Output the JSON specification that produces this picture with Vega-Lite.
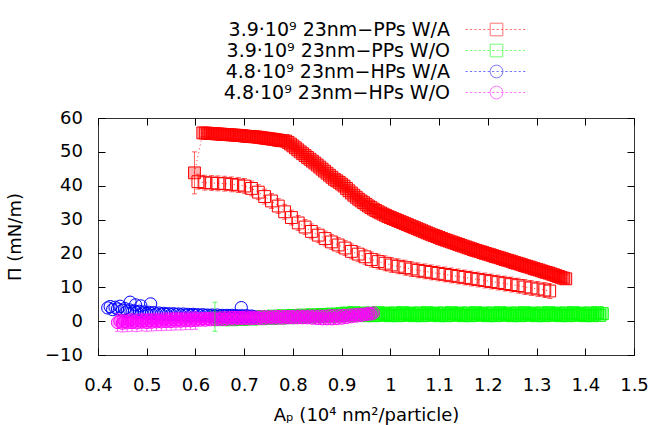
{
"$schema": "https://vega.github.io/schema/vega-lite/v6.json",
"width": 536, "height": 237,
"autosize": "none",
"padding": {"left": 98, "top": 118, "right": 20, "bottom": 70},
"config": {
  "font": "DejaVu Sans",
  "view": {"stroke": "#333", "strokeWidth": 1},
  "axis": {"domain": false, "ticks": true, "tickSize": 7, "tickColor": "#000", "tickWidth": 1, "tickOpacity": 0, "grid": true, "gridColor": "#000", "gridOpacity": 1, "gridWidth": 1, "labelFlush": false, "labelOverlap": false, "labelFont": "DejaVu Sans", "labelFontSize": 18, "labelColor": "#000", "titleFont": "DejaVu Sans", "titleFontSize": 18, "titleColor": "#000", "titleFontWeight": "normal"}
},
"data": {"values": [
{"s":"PPs W/A","r":1,"x":0.598,"y":43.8,"err":6.2},
{"s":"PPs W/A","r":1,"x":0.615,"y":55.6,"err":1.2},{"s":"PPs W/A","r":1,"x":0.62,"y":55.55,"err":1.2},{"s":"PPs W/A","r":1,"x":0.625,"y":55.5,"err":1.2},{"s":"PPs W/A","r":1,"x":0.63,"y":55.45,"err":1.2},{"s":"PPs W/A","r":1,"x":0.635,"y":55.4,"err":1.2},{"s":"PPs W/A","r":1,"x":0.64,"y":55.35,"err":1.2},{"s":"PPs W/A","r":1,"x":0.645,"y":55.3,"err":1.2},{"s":"PPs W/A","r":1,"x":0.65,"y":55.25,"err":1.2},{"s":"PPs W/A","r":1,"x":0.655,"y":55.2,"err":1.2},{"s":"PPs W/A","r":1,"x":0.66,"y":55.15,"err":1.2},{"s":"PPs W/A","r":1,"x":0.665,"y":55.1,"err":1.2},{"s":"PPs W/A","r":1,"x":0.67,"y":55.05,"err":1.2},{"s":"PPs W/A","r":1,"x":0.675,"y":55.0,"err":1.2},{"s":"PPs W/A","r":1,"x":0.68,"y":54.95,"err":1.2},{"s":"PPs W/A","r":1,"x":0.685,"y":54.9,"err":1.2},{"s":"PPs W/A","r":1,"x":0.69,"y":54.85,"err":1.2},{"s":"PPs W/A","r":1,"x":0.695,"y":54.8,"err":1.2},{"s":"PPs W/A","r":1,"x":0.7,"y":54.7,"err":1.2},{"s":"PPs W/A","r":1,"x":0.705,"y":54.6,"err":1.2},{"s":"PPs W/A","r":1,"x":0.71,"y":54.55,"err":1.2},{"s":"PPs W/A","r":1,"x":0.715,"y":54.5,"err":1.2},{"s":"PPs W/A","r":1,"x":0.72,"y":54.45,"err":1.2},{"s":"PPs W/A","r":1,"x":0.725,"y":54.4,"err":1.2},{"s":"PPs W/A","r":1,"x":0.73,"y":54.3,"err":1.2},{"s":"PPs W/A","r":1,"x":0.735,"y":54.2,"err":1.2},{"s":"PPs W/A","r":1,"x":0.74,"y":54.1,"err":1.2},{"s":"PPs W/A","r":1,"x":0.745,"y":54.0,"err":1.2},{"s":"PPs W/A","r":1,"x":0.75,"y":53.9,"err":1.2},{"s":"PPs W/A","r":1,"x":0.755,"y":53.8,"err":1.2},{"s":"PPs W/A","r":1,"x":0.76,"y":53.7,"err":1.2},{"s":"PPs W/A","r":1,"x":0.765,"y":53.6,"err":1.2},{"s":"PPs W/A","r":1,"x":0.77,"y":53.45,"err":1.2},{"s":"PPs W/A","r":1,"x":0.775,"y":53.3,"err":1.2},{"s":"PPs W/A","r":1,"x":0.78,"y":53.3,"err":1.2},{"s":"PPs W/A","r":1,"x":0.785,"y":53.2,"err":1.2},{"s":"PPs W/A","r":1,"x":0.79,"y":52.8,"err":1.2},{"s":"PPs W/A","r":1,"x":0.795,"y":52.3,"err":1.2},{"s":"PPs W/A","r":1,"x":0.8,"y":51.75,"err":1.2},{"s":"PPs W/A","r":1,"x":0.805,"y":51.2,"err":1.2},{"s":"PPs W/A","r":1,"x":0.81,"y":50.6,"err":1.2},{"s":"PPs W/A","r":1,"x":0.815,"y":50.0,"err":1.2},{"s":"PPs W/A","r":1,"x":0.82,"y":49.45,"err":1.2},{"s":"PPs W/A","r":1,"x":0.825,"y":48.9,"err":1.2},{"s":"PPs W/A","r":1,"x":0.83,"y":48.35,"err":1.2},{"s":"PPs W/A","r":1,"x":0.835,"y":47.8,"err":1.2},{"s":"PPs W/A","r":1,"x":0.84,"y":47.25,"err":1.2},{"s":"PPs W/A","r":1,"x":0.845,"y":46.7,"err":1.2},{"s":"PPs W/A","r":1,"x":0.85,"y":46.1,"err":1.2},{"s":"PPs W/A","r":1,"x":0.855,"y":45.5,"err":1.2},{"s":"PPs W/A","r":1,"x":0.86,"y":44.9,"err":1.2},{"s":"PPs W/A","r":1,"x":0.865,"y":44.3,"err":1.2},{"s":"PPs W/A","r":1,"x":0.87,"y":43.7,"err":1.2},{"s":"PPs W/A","r":1,"x":0.875,"y":43.1,"err":1.2},{"s":"PPs W/A","r":1,"x":0.88,"y":42.5,"err":1.2},{"s":"PPs W/A","r":1,"x":0.885,"y":41.9,"err":1.2},{"s":"PPs W/A","r":1,"x":0.89,"y":41.45,"err":1.2},{"s":"PPs W/A","r":1,"x":0.895,"y":41.0,"err":1.2},{"s":"PPs W/A","r":1,"x":0.9,"y":40.45,"err":1.2},{"s":"PPs W/A","r":1,"x":0.905,"y":39.9,"err":1.2},{"s":"PPs W/A","r":1,"x":0.91,"y":39.2,"err":1.2},{"s":"PPs W/A","r":1,"x":0.915,"y":38.5,"err":1.2},{"s":"PPs W/A","r":1,"x":0.92,"y":37.85,"err":1.2},{"s":"PPs W/A","r":1,"x":0.925,"y":37.2,"err":1.2},{"s":"PPs W/A","r":1,"x":0.93,"y":36.6,"err":1.2},{"s":"PPs W/A","r":1,"x":0.935,"y":36.0,"err":1.2},{"s":"PPs W/A","r":1,"x":0.94,"y":35.5,"err":1.2},{"s":"PPs W/A","r":1,"x":0.945,"y":35.0,"err":1.2},{"s":"PPs W/A","r":1,"x":0.95,"y":34.5,"err":1.2},{"s":"PPs W/A","r":1,"x":0.955,"y":34.0,"err":1.2},{"s":"PPs W/A","r":1,"x":0.96,"y":33.55,"err":1.2},{"s":"PPs W/A","r":1,"x":0.965,"y":33.1,"err":1.2},{"s":"PPs W/A","r":1,"x":0.97,"y":32.7,"err":1.2},{"s":"PPs W/A","r":1,"x":0.975,"y":32.3,"err":1.2},{"s":"PPs W/A","r":1,"x":0.98,"y":31.95,"err":1.2},{"s":"PPs W/A","r":1,"x":0.985,"y":31.6,"err":1.2},{"s":"PPs W/A","r":1,"x":0.99,"y":31.25,"err":1.2},{"s":"PPs W/A","r":1,"x":0.995,"y":30.9,"err":1.2},{"s":"PPs W/A","r":1,"x":1.0,"y":30.6,"err":1.2},{"s":"PPs W/A","r":1,"x":1.005,"y":30.3,"err":1.2},{"s":"PPs W/A","r":1,"x":1.01,"y":30.0,"err":1.2},{"s":"PPs W/A","r":1,"x":1.015,"y":29.7,"err":1.2},{"s":"PPs W/A","r":1,"x":1.02,"y":29.4,"err":1.2},{"s":"PPs W/A","r":1,"x":1.025,"y":29.1,"err":1.2},{"s":"PPs W/A","r":1,"x":1.03,"y":28.8,"err":1.2},{"s":"PPs W/A","r":1,"x":1.035,"y":28.5,"err":1.2},{"s":"PPs W/A","r":1,"x":1.04,"y":28.2,"err":1.2},{"s":"PPs W/A","r":1,"x":1.045,"y":27.9,"err":1.2},{"s":"PPs W/A","r":1,"x":1.05,"y":27.6,"err":1.2},{"s":"PPs W/A","r":1,"x":1.055,"y":27.3,"err":1.2},{"s":"PPs W/A","r":1,"x":1.06,"y":27.0,"err":1.2},{"s":"PPs W/A","r":1,"x":1.065,"y":26.7,"err":1.2},{"s":"PPs W/A","r":1,"x":1.07,"y":26.4,"err":1.2},{"s":"PPs W/A","r":1,"x":1.075,"y":26.1,"err":1.2},{"s":"PPs W/A","r":1,"x":1.08,"y":25.8,"err":1.2},{"s":"PPs W/A","r":1,"x":1.085,"y":25.5,"err":1.2},{"s":"PPs W/A","r":1,"x":1.09,"y":25.25,"err":1.2},{"s":"PPs W/A","r":1,"x":1.095,"y":25.0,"err":1.2},{"s":"PPs W/A","r":1,"x":1.1,"y":24.7,"err":1.2},{"s":"PPs W/A","r":1,"x":1.105,"y":24.4,"err":1.2},{"s":"PPs W/A","r":1,"x":1.11,"y":24.15,"err":1.2},{"s":"PPs W/A","r":1,"x":1.115,"y":23.9,"err":1.2},{"s":"PPs W/A","r":1,"x":1.12,"y":23.65,"err":1.2},{"s":"PPs W/A","r":1,"x":1.125,"y":23.4,"err":1.2},{"s":"PPs W/A","r":1,"x":1.13,"y":23.15,"err":1.2},{"s":"PPs W/A","r":1,"x":1.135,"y":22.9,"err":1.2},{"s":"PPs W/A","r":1,"x":1.14,"y":22.65,"err":1.2},{"s":"PPs W/A","r":1,"x":1.145,"y":22.4,"err":1.2},{"s":"PPs W/A","r":1,"x":1.15,"y":22.15,"err":1.2},{"s":"PPs W/A","r":1,"x":1.155,"y":21.9,"err":1.2},{"s":"PPs W/A","r":1,"x":1.16,"y":21.65,"err":1.2},{"s":"PPs W/A","r":1,"x":1.165,"y":21.4,"err":1.2},{"s":"PPs W/A","r":1,"x":1.17,"y":21.15,"err":1.2},{"s":"PPs W/A","r":1,"x":1.175,"y":20.9,"err":1.2},{"s":"PPs W/A","r":1,"x":1.18,"y":20.7,"err":1.2},{"s":"PPs W/A","r":1,"x":1.185,"y":20.5,"err":1.2},{"s":"PPs W/A","r":1,"x":1.19,"y":20.25,"err":1.2},{"s":"PPs W/A","r":1,"x":1.195,"y":20.0,"err":1.2},{"s":"PPs W/A","r":1,"x":1.2,"y":19.8,"err":1.2},{"s":"PPs W/A","r":1,"x":1.205,"y":19.6,"err":1.2},{"s":"PPs W/A","r":1,"x":1.21,"y":19.35,"err":1.2},{"s":"PPs W/A","r":1,"x":1.215,"y":19.1,"err":1.2},{"s":"PPs W/A","r":1,"x":1.22,"y":18.9,"err":1.2},{"s":"PPs W/A","r":1,"x":1.225,"y":18.7,"err":1.2},{"s":"PPs W/A","r":1,"x":1.23,"y":18.45,"err":1.2},{"s":"PPs W/A","r":1,"x":1.235,"y":18.2,"err":1.2},{"s":"PPs W/A","r":1,"x":1.24,"y":18.0,"err":1.2},{"s":"PPs W/A","r":1,"x":1.245,"y":17.8,"err":1.2},{"s":"PPs W/A","r":1,"x":1.25,"y":17.55,"err":1.2},{"s":"PPs W/A","r":1,"x":1.255,"y":17.3,"err":1.2},{"s":"PPs W/A","r":1,"x":1.26,"y":17.1,"err":1.2},{"s":"PPs W/A","r":1,"x":1.265,"y":16.9,"err":1.2},{"s":"PPs W/A","r":1,"x":1.27,"y":16.65,"err":1.2},{"s":"PPs W/A","r":1,"x":1.275,"y":16.4,"err":1.2},{"s":"PPs W/A","r":1,"x":1.28,"y":16.2,"err":1.2},{"s":"PPs W/A","r":1,"x":1.285,"y":16.0,"err":1.2},{"s":"PPs W/A","r":1,"x":1.29,"y":15.75,"err":1.2},{"s":"PPs W/A","r":1,"x":1.295,"y":15.5,"err":1.2},{"s":"PPs W/A","r":1,"x":1.3,"y":15.3,"err":1.2},{"s":"PPs W/A","r":1,"x":1.305,"y":15.1,"err":1.2},{"s":"PPs W/A","r":1,"x":1.31,"y":14.85,"err":1.2},{"s":"PPs W/A","r":1,"x":1.315,"y":14.6,"err":1.2},{"s":"PPs W/A","r":1,"x":1.32,"y":14.4,"err":1.2},{"s":"PPs W/A","r":1,"x":1.325,"y":14.2,"err":1.2},{"s":"PPs W/A","r":1,"x":1.33,"y":13.95,"err":1.2},{"s":"PPs W/A","r":1,"x":1.335,"y":13.7,"err":1.2},{"s":"PPs W/A","r":1,"x":1.34,"y":13.45,"err":1.2},{"s":"PPs W/A","r":1,"x":1.345,"y":13.2,"err":1.2},{"s":"PPs W/A","r":1,"x":1.35,"y":12.95,"err":1.2},{"s":"PPs W/A","r":1,"x":1.355,"y":12.7,"err":1.2},{"s":"PPs W/A","r":1,"x":1.36,"y":12.5,"err":1.2},
{"s":"PPs W/A","r":2,"x":0.605,"y":41.2,"err":2.2},{"s":"PPs W/A","r":2,"x":0.619,"y":40.9,"err":2.2},{"s":"PPs W/A","r":2,"x":0.633,"y":40.8,"err":2.2},{"s":"PPs W/A","r":2,"x":0.646,"y":40.7,"err":2.2},{"s":"PPs W/A","r":2,"x":0.660,"y":40.6,"err":2.2},{"s":"PPs W/A","r":2,"x":0.674,"y":40.4,"err":2.2},{"s":"PPs W/A","r":2,"x":0.688,"y":40.2,"err":2.2},{"s":"PPs W/A","r":2,"x":0.701,"y":39.9,"err":2.2},{"s":"PPs W/A","r":2,"x":0.715,"y":39.2,"err":2.2},{"s":"PPs W/A","r":2,"x":0.729,"y":38.1,"err":2.2},{"s":"PPs W/A","r":2,"x":0.742,"y":36.8,"err":2.2},{"s":"PPs W/A","r":2,"x":0.756,"y":35.5,"err":2.2},{"s":"PPs W/A","r":2,"x":0.770,"y":34.0,"err":2.2},{"s":"PPs W/A","r":2,"x":0.783,"y":32.3,"err":2.2},{"s":"PPs W/A","r":2,"x":0.797,"y":30.6,"err":2.2},{"s":"PPs W/A","r":2,"x":0.811,"y":29.0,"err":2.2},{"s":"PPs W/A","r":2,"x":0.825,"y":27.8,"err":2.2},{"s":"PPs W/A","r":2,"x":0.838,"y":26.5,"err":2.2},{"s":"PPs W/A","r":2,"x":0.852,"y":25.4,"err":2.2},{"s":"PPs W/A","r":2,"x":0.866,"y":24.4,"err":2.2},{"s":"PPs W/A","r":2,"x":0.879,"y":23.4,"err":2.2},{"s":"PPs W/A","r":2,"x":0.893,"y":22.5,"err":2.2},{"s":"PPs W/A","r":2,"x":0.907,"y":21.6,"err":2.2},{"s":"PPs W/A","r":2,"x":0.920,"y":20.6,"err":2.2},{"s":"PPs W/A","r":2,"x":0.934,"y":19.8,"err":2.2},{"s":"PPs W/A","r":2,"x":0.948,"y":19.0,"err":2.2},{"s":"PPs W/A","r":2,"x":0.961,"y":18.2,"err":2.2},{"s":"PPs W/A","r":2,"x":0.975,"y":17.6,"err":2.2},{"s":"PPs W/A","r":2,"x":0.989,"y":17.1,"err":2.2},{"s":"PPs W/A","r":2,"x":1.002,"y":16.6,"err":2.2},{"s":"PPs W/A","r":2,"x":1.016,"y":16.2,"err":2.2},{"s":"PPs W/A","r":2,"x":1.030,"y":15.8,"err":2.2},{"s":"PPs W/A","r":2,"x":1.043,"y":15.4,"err":2.2},{"s":"PPs W/A","r":2,"x":1.057,"y":15.0,"err":2.2},{"s":"PPs W/A","r":2,"x":1.071,"y":14.7,"err":2.2},{"s":"PPs W/A","r":2,"x":1.084,"y":14.4,"err":2.2},{"s":"PPs W/A","r":2,"x":1.098,"y":14.1,"err":2.2},{"s":"PPs W/A","r":2,"x":1.112,"y":13.8,"err":2.2},{"s":"PPs W/A","r":2,"x":1.125,"y":13.5,"err":2.2},{"s":"PPs W/A","r":2,"x":1.139,"y":13.2,"err":2.2},{"s":"PPs W/A","r":2,"x":1.153,"y":12.9,"err":2.2},{"s":"PPs W/A","r":2,"x":1.166,"y":12.6,"err":2.2},{"s":"PPs W/A","r":2,"x":1.180,"y":12.3,"err":2.2},{"s":"PPs W/A","r":2,"x":1.194,"y":12.0,"err":2.2},{"s":"PPs W/A","r":2,"x":1.207,"y":11.7,"err":2.2},{"s":"PPs W/A","r":2,"x":1.221,"y":11.4,"err":2.2},{"s":"PPs W/A","r":2,"x":1.235,"y":11.1,"err":2.2},{"s":"PPs W/A","r":2,"x":1.248,"y":10.8,"err":2.2},{"s":"PPs W/A","r":2,"x":1.262,"y":10.5,"err":2.2},{"s":"PPs W/A","r":2,"x":1.276,"y":10.1,"err":2.2},{"s":"PPs W/A","r":2,"x":1.289,"y":9.8,"err":2.2},{"s":"PPs W/A","r":2,"x":1.303,"y":9.5,"err":2.2},{"s":"PPs W/A","r":2,"x":1.317,"y":9.2,"err":2.2},{"s":"PPs W/A","r":2,"x":1.327,"y":8.9,"err":2.2},
{"s":"PPs W/O","x":0.64,"y":1.3,"err":4.3},{"s":"PPs W/O","x":0.645,"y":0.5},{"s":"PPs W/O","x":0.65,"y":0.9},{"s":"PPs W/O","x":0.655,"y":0.4},{"s":"PPs W/O","x":0.66,"y":1.0},{"s":"PPs W/O","x":0.665,"y":0.6},{"s":"PPs W/O","x":0.67,"y":0.8},{"s":"PPs W/O","x":0.675,"y":0.4},{"s":"PPs W/O","x":0.68,"y":1.1},{"s":"PPs W/O","x":0.685,"y":0.7},{"s":"PPs W/O","x":0.69,"y":0.9},{"s":"PPs W/O","x":0.695,"y":0.5},{"s":"PPs W/O","x":0.7,"y":1.2},{"s":"PPs W/O","x":0.705,"y":0.8},{"s":"PPs W/O","x":0.71,"y":1.0},{"s":"PPs W/O","x":0.715,"y":0.6},{"s":"PPs W/O","x":0.72,"y":1.3},{"s":"PPs W/O","x":0.725,"y":0.9},{"s":"PPs W/O","x":0.73,"y":1.1},{"s":"PPs W/O","x":0.735,"y":0.7},{"s":"PPs W/O","x":0.74,"y":1.4},{"s":"PPs W/O","x":0.745,"y":1.0},{"s":"PPs W/O","x":0.75,"y":1.2},{"s":"PPs W/O","x":0.755,"y":0.8},{"s":"PPs W/O","x":0.76,"y":1.5},{"s":"PPs W/O","x":0.765,"y":1.1},{"s":"PPs W/O","x":0.77,"y":1.3},{"s":"PPs W/O","x":0.775,"y":0.9},{"s":"PPs W/O","x":0.78,"y":1.6},{"s":"PPs W/O","x":0.785,"y":1.2},{"s":"PPs W/O","x":0.79,"y":1.4},{"s":"PPs W/O","x":0.795,"y":1.0},{"s":"PPs W/O","x":0.8,"y":1.7},{"s":"PPs W/O","x":0.805,"y":1.3},{"s":"PPs W/O","x":0.81,"y":1.5},{"s":"PPs W/O","x":0.815,"y":1.1},{"s":"PPs W/O","x":0.82,"y":1.8},{"s":"PPs W/O","x":0.825,"y":1.4},{"s":"PPs W/O","x":0.83,"y":1.6},{"s":"PPs W/O","x":0.835,"y":1.2},{"s":"PPs W/O","x":0.84,"y":1.9},{"s":"PPs W/O","x":0.845,"y":1.5},{"s":"PPs W/O","x":0.85,"y":1.7},{"s":"PPs W/O","x":0.855,"y":1.3},{"s":"PPs W/O","x":0.86,"y":2.0},{"s":"PPs W/O","x":0.865,"y":1.6},{"s":"PPs W/O","x":0.87,"y":1.8},{"s":"PPs W/O","x":0.875,"y":1.4},{"s":"PPs W/O","x":0.88,"y":2.1},{"s":"PPs W/O","x":0.885,"y":1.7},{"s":"PPs W/O","x":0.89,"y":1.9},{"s":"PPs W/O","x":0.895,"y":1.5},{"s":"PPs W/O","x":0.9,"y":2.2},
{"s":"PPs W/O","x":0.905,"y":1.8},{"s":"PPs W/O","x":0.91,"y":2.4},{"s":"PPs W/O","x":0.915,"y":1.6},{"s":"PPs W/O","x":0.92,"y":2.1},{"s":"PPs W/O","x":0.925,"y":2.5},{"s":"PPs W/O","x":0.93,"y":1.7},{"s":"PPs W/O","x":0.935,"y":2.2},{"s":"PPs W/O","x":0.94,"y":1.9},{"s":"PPs W/O","x":0.945,"y":2.4},{"s":"PPs W/O","x":0.95,"y":1.6},
{"s":"PPs W/O","x":0.955,"y":1.8},{"s":"PPs W/O","x":0.96,"y":2.4},{"s":"PPs W/O","x":0.965,"y":1.6},{"s":"PPs W/O","x":0.97,"y":2.1},{"s":"PPs W/O","x":0.975,"y":2.5},{"s":"PPs W/O","x":0.98,"y":1.7},{"s":"PPs W/O","x":0.985,"y":2.2},{"s":"PPs W/O","x":0.99,"y":1.9},{"s":"PPs W/O","x":0.995,"y":2.4},{"s":"PPs W/O","x":1.0,"y":1.6},
{"s":"PPs W/O","x":1.005,"y":1.8},{"s":"PPs W/O","x":1.01,"y":2.4},{"s":"PPs W/O","x":1.015,"y":1.6},{"s":"PPs W/O","x":1.02,"y":2.1},{"s":"PPs W/O","x":1.025,"y":2.5},{"s":"PPs W/O","x":1.03,"y":1.7},{"s":"PPs W/O","x":1.035,"y":2.2},{"s":"PPs W/O","x":1.04,"y":1.9},{"s":"PPs W/O","x":1.045,"y":2.4},{"s":"PPs W/O","x":1.05,"y":1.6},
{"s":"PPs W/O","x":1.055,"y":1.8},{"s":"PPs W/O","x":1.06,"y":2.4},{"s":"PPs W/O","x":1.065,"y":1.6},{"s":"PPs W/O","x":1.07,"y":2.1},{"s":"PPs W/O","x":1.075,"y":2.5},{"s":"PPs W/O","x":1.08,"y":1.7},{"s":"PPs W/O","x":1.085,"y":2.2},{"s":"PPs W/O","x":1.09,"y":1.9},{"s":"PPs W/O","x":1.095,"y":2.4},{"s":"PPs W/O","x":1.1,"y":1.6},
{"s":"PPs W/O","x":1.105,"y":1.8},{"s":"PPs W/O","x":1.11,"y":2.4},{"s":"PPs W/O","x":1.115,"y":1.6},{"s":"PPs W/O","x":1.12,"y":2.1},{"s":"PPs W/O","x":1.125,"y":2.5},{"s":"PPs W/O","x":1.13,"y":1.7},{"s":"PPs W/O","x":1.135,"y":2.2},{"s":"PPs W/O","x":1.14,"y":1.9},{"s":"PPs W/O","x":1.145,"y":2.4},{"s":"PPs W/O","x":1.15,"y":1.6},
{"s":"PPs W/O","x":1.155,"y":1.8},{"s":"PPs W/O","x":1.16,"y":2.4},{"s":"PPs W/O","x":1.165,"y":1.6},{"s":"PPs W/O","x":1.17,"y":2.1},{"s":"PPs W/O","x":1.175,"y":2.5},{"s":"PPs W/O","x":1.18,"y":1.7},{"s":"PPs W/O","x":1.185,"y":2.2},{"s":"PPs W/O","x":1.19,"y":1.9},{"s":"PPs W/O","x":1.195,"y":2.4},{"s":"PPs W/O","x":1.2,"y":1.6},
{"s":"PPs W/O","x":1.205,"y":1.8},{"s":"PPs W/O","x":1.21,"y":2.4},{"s":"PPs W/O","x":1.215,"y":1.6},{"s":"PPs W/O","x":1.22,"y":2.1},{"s":"PPs W/O","x":1.225,"y":2.5},{"s":"PPs W/O","x":1.23,"y":1.7},{"s":"PPs W/O","x":1.235,"y":2.2},{"s":"PPs W/O","x":1.24,"y":1.9},{"s":"PPs W/O","x":1.245,"y":2.4},{"s":"PPs W/O","x":1.25,"y":1.6},
{"s":"PPs W/O","x":1.255,"y":1.8},{"s":"PPs W/O","x":1.26,"y":2.4},{"s":"PPs W/O","x":1.265,"y":1.6},{"s":"PPs W/O","x":1.27,"y":2.1},{"s":"PPs W/O","x":1.275,"y":2.5},{"s":"PPs W/O","x":1.28,"y":1.7},{"s":"PPs W/O","x":1.285,"y":2.2},{"s":"PPs W/O","x":1.29,"y":1.9},{"s":"PPs W/O","x":1.295,"y":2.4},{"s":"PPs W/O","x":1.3,"y":1.6},
{"s":"PPs W/O","x":1.305,"y":1.8},{"s":"PPs W/O","x":1.31,"y":2.4},{"s":"PPs W/O","x":1.315,"y":1.6},{"s":"PPs W/O","x":1.32,"y":2.1},{"s":"PPs W/O","x":1.325,"y":2.5},{"s":"PPs W/O","x":1.33,"y":1.7},{"s":"PPs W/O","x":1.335,"y":2.2},{"s":"PPs W/O","x":1.34,"y":1.9},{"s":"PPs W/O","x":1.345,"y":2.4},{"s":"PPs W/O","x":1.35,"y":1.6},
{"s":"PPs W/O","x":1.355,"y":1.8},{"s":"PPs W/O","x":1.36,"y":2.4},{"s":"PPs W/O","x":1.365,"y":1.6},{"s":"PPs W/O","x":1.37,"y":2.1},{"s":"PPs W/O","x":1.375,"y":2.5},{"s":"PPs W/O","x":1.38,"y":1.7},{"s":"PPs W/O","x":1.385,"y":2.2},{"s":"PPs W/O","x":1.39,"y":1.9},{"s":"PPs W/O","x":1.395,"y":2.4},{"s":"PPs W/O","x":1.4,"y":1.6},
{"s":"PPs W/O","x":1.405,"y":1.8},{"s":"PPs W/O","x":1.41,"y":2.4},{"s":"PPs W/O","x":1.415,"y":1.6},{"s":"PPs W/O","x":1.42,"y":2.1},{"s":"PPs W/O","x":1.425,"y":2.5},{"s":"PPs W/O","x":1.43,"y":1.7},{"s":"PPs W/O","x":1.435,"y":2.2},
{"s":"HPs W/A","x":0.42,"y":3.9},{"s":"HPs W/A","x":0.425,"y":4.3},{"s":"HPs W/A","x":0.43,"y":3.4},{"s":"HPs W/A","x":0.435,"y":4.1},{"s":"HPs W/A","x":0.44,"y":3.6},{"s":"HPs W/A","x":0.445,"y":4.4},{"s":"HPs W/A","x":0.45,"y":3.2},{"s":"HPs W/A","x":0.455,"y":3.7},{"s":"HPs W/A","x":0.46,"y":2.9},{"s":"HPs W/A","x":0.465,"y":3.3},{"s":"HPs W/A","x":0.466,"y":5.6},{"s":"HPs W/A","x":0.47,"y":2.7},{"s":"HPs W/A","x":0.475,"y":3.0},{"s":"HPs W/A","x":0.477,"y":4.8},{"s":"HPs W/A","x":0.48,"y":2.6},{"s":"HPs W/A","x":0.485,"y":2.9},{"s":"HPs W/A","x":0.488,"y":4.5},{"s":"HPs W/A","x":0.49,"y":2.4},{"s":"HPs W/A","x":0.495,"y":2.7},{"s":"HPs W/A","x":0.5,"y":2.3},{"s":"HPs W/A","x":0.505,"y":2.6},{"s":"HPs W/A","x":0.508,"y":5.1},{"s":"HPs W/A","x":0.51,"y":2.2},{"s":"HPs W/A","x":0.515,"y":2.5},{"s":"HPs W/A","x":0.52,"y":2.1},{"s":"HPs W/A","x":0.525,"y":2.4},{"s":"HPs W/A","x":0.53,"y":2.0},{"s":"HPs W/A","x":0.535,"y":2.3},{"s":"HPs W/A","x":0.54,"y":2.0},{"s":"HPs W/A","x":0.545,"y":2.2},{"s":"HPs W/A","x":0.55,"y":1.9},{"s":"HPs W/A","x":0.555,"y":2.2},{"s":"HPs W/A","x":0.56,"y":1.9},{"s":"HPs W/A","x":0.565,"y":2.1},{"s":"HPs W/A","x":0.57,"y":1.8},{"s":"HPs W/A","x":0.575,"y":2.1},{"s":"HPs W/A","x":0.58,"y":1.8},{"s":"HPs W/A","x":0.585,"y":2.0},{"s":"HPs W/A","x":0.59,"y":1.7},{"s":"HPs W/A","x":0.595,"y":2.0},{"s":"HPs W/A","x":0.6,"y":1.7},{"s":"HPs W/A","x":0.605,"y":1.9},{"s":"HPs W/A","x":0.61,"y":1.6},{"s":"HPs W/A","x":0.615,"y":1.9},{"s":"HPs W/A","x":0.62,"y":1.6},{"s":"HPs W/A","x":0.625,"y":1.8},{"s":"HPs W/A","x":0.63,"y":1.6},{"s":"HPs W/A","x":0.635,"y":1.8},{"s":"HPs W/A","x":0.64,"y":1.5},{"s":"HPs W/A","x":0.645,"y":1.8},{"s":"HPs W/A","x":0.65,"y":1.5},{"s":"HPs W/A","x":0.655,"y":1.7},{"s":"HPs W/A","x":0.66,"y":1.5},{"s":"HPs W/A","x":0.665,"y":1.7},{"s":"HPs W/A","x":0.67,"y":1.4},{"s":"HPs W/A","x":0.675,"y":1.7},{"s":"HPs W/A","x":0.68,"y":1.4},{"s":"HPs W/A","x":0.685,"y":1.6},{"s":"HPs W/A","x":0.69,"y":1.4},{"s":"HPs W/A","x":0.694,"y":4.0},{"s":"HPs W/A","x":0.695,"y":1.6},{"s":"HPs W/A","x":0.7,"y":1.3},{"s":"HPs W/A","x":0.705,"y":1.6},{"s":"HPs W/A","x":0.71,"y":1.3},{"s":"HPs W/A","x":0.715,"y":1.5},{"s":"HPs W/A","x":0.72,"y":1.3},
{"s":"HPs W/O","x":0.44,"y":-0.4,"err":2.6},{"s":"HPs W/O","x":0.445,"y":0.0},{"s":"HPs W/O","x":0.45,"y":-0.6,"err":2.6},{"s":"HPs W/O","x":0.455,"y":-0.1},{"s":"HPs W/O","x":0.46,"y":-0.5,"err":2.6},{"s":"HPs W/O","x":0.465,"y":0.1},{"s":"HPs W/O","x":0.47,"y":-0.4,"err":2.6},{"s":"HPs W/O","x":0.475,"y":0.0},{"s":"HPs W/O","x":0.48,"y":-0.5,"err":2.6},{"s":"HPs W/O","x":0.485,"y":0.1},{"s":"HPs W/O","x":0.49,"y":-0.3,"err":2.6},{"s":"HPs W/O","x":0.495,"y":0.2},{"s":"HPs W/O","x":0.5,"y":-0.4,"err":2.6},{"s":"HPs W/O","x":0.505,"y":0.2},{"s":"HPs W/O","x":0.51,"y":-0.3,"err":2.6},{"s":"HPs W/O","x":0.515,"y":0.3},{"s":"HPs W/O","x":0.52,"y":-0.2,"err":2.6},{"s":"HPs W/O","x":0.525,"y":0.3},{"s":"HPs W/O","x":0.53,"y":-0.2,"err":2.6},{"s":"HPs W/O","x":0.535,"y":0.4},{"s":"HPs W/O","x":0.54,"y":-0.1,"err":2.6},{"s":"HPs W/O","x":0.545,"y":0.4},{"s":"HPs W/O","x":0.55,"y":-0.1,"err":2.6},{"s":"HPs W/O","x":0.555,"y":0.5},{"s":"HPs W/O","x":0.56,"y":0.0,"err":2.6},{"s":"HPs W/O","x":0.565,"y":0.5},{"s":"HPs W/O","x":0.57,"y":0.0,"err":2.6},{"s":"HPs W/O","x":0.575,"y":0.6},{"s":"HPs W/O","x":0.58,"y":0.1,"err":2.6},{"s":"HPs W/O","x":0.585,"y":0.6},{"s":"HPs W/O","x":0.59,"y":0.1,"err":2.6},{"s":"HPs W/O","x":0.595,"y":0.7},{"s":"HPs W/O","x":0.6,"y":0.2,"err":2.6},{"s":"HPs W/O","x":0.605,"y":0.7},{"s":"HPs W/O","x":0.61,"y":0.3},{"s":"HPs W/O","x":0.615,"y":0.8},{"s":"HPs W/O","x":0.62,"y":0.3},{"s":"HPs W/O","x":0.625,"y":0.8},{"s":"HPs W/O","x":0.63,"y":0.4},{"s":"HPs W/O","x":0.635,"y":0.9},{"s":"HPs W/O","x":0.64,"y":0.4},{"s":"HPs W/O","x":0.645,"y":0.9},{"s":"HPs W/O","x":0.65,"y":0.5},{"s":"HPs W/O","x":0.655,"y":1.0},{"s":"HPs W/O","x":0.66,"y":0.5},{"s":"HPs W/O","x":0.665,"y":1.0},{"s":"HPs W/O","x":0.67,"y":0.6},{"s":"HPs W/O","x":0.675,"y":1.1},{"s":"HPs W/O","x":0.68,"y":0.6},{"s":"HPs W/O","x":0.685,"y":1.1},{"s":"HPs W/O","x":0.69,"y":0.7},{"s":"HPs W/O","x":0.695,"y":1.1},{"s":"HPs W/O","x":0.7,"y":0.7},{"s":"HPs W/O","x":0.705,"y":1.2},{"s":"HPs W/O","x":0.71,"y":0.7},{"s":"HPs W/O","x":0.715,"y":1.2},{"s":"HPs W/O","x":0.72,"y":0.8},{"s":"HPs W/O","x":0.725,"y":1.2},{"s":"HPs W/O","x":0.73,"y":0.8},{"s":"HPs W/O","x":0.735,"y":1.3},{"s":"HPs W/O","x":0.74,"y":0.8},{"s":"HPs W/O","x":0.745,"y":1.3},{"s":"HPs W/O","x":0.75,"y":0.9},{"s":"HPs W/O","x":0.755,"y":1.3},{"s":"HPs W/O","x":0.76,"y":0.9},{"s":"HPs W/O","x":0.765,"y":1.4},{"s":"HPs W/O","x":0.77,"y":0.9},{"s":"HPs W/O","x":0.775,"y":1.4},{"s":"HPs W/O","x":0.78,"y":0.9},{"s":"HPs W/O","x":0.785,"y":1.4},{"s":"HPs W/O","x":0.79,"y":1.0},{"s":"HPs W/O","x":0.795,"y":1.4},{"s":"HPs W/O","x":0.8,"y":1.0},{"s":"HPs W/O","x":0.805,"y":1.5},{"s":"HPs W/O","x":0.81,"y":1.0},{"s":"HPs W/O","x":0.815,"y":1.5},{"s":"HPs W/O","x":0.82,"y":1.0},{"s":"HPs W/O","x":0.825,"y":1.5},{"s":"HPs W/O","x":0.83,"y":1.0},{"s":"HPs W/O","x":0.835,"y":1.5},{"s":"HPs W/O","x":0.84,"y":0.9},{"s":"HPs W/O","x":0.845,"y":1.5},{"s":"HPs W/O","x":0.85,"y":0.8},{"s":"HPs W/O","x":0.855,"y":1.5},{"s":"HPs W/O","x":0.86,"y":0.7},{"s":"HPs W/O","x":0.865,"y":1.5},{"s":"HPs W/O","x":0.87,"y":0.7},{"s":"HPs W/O","x":0.875,"y":1.6},{"s":"HPs W/O","x":0.88,"y":0.7},{"s":"HPs W/O","x":0.885,"y":1.6},{"s":"HPs W/O","x":0.89,"y":0.8},{"s":"HPs W/O","x":0.895,"y":1.6},{"s":"HPs W/O","x":0.9,"y":0.9},{"s":"HPs W/O","x":0.905,"y":1.7},{"s":"HPs W/O","x":0.91,"y":1.1},{"s":"HPs W/O","x":0.915,"y":1.8},{"s":"HPs W/O","x":0.92,"y":1.3},{"s":"HPs W/O","x":0.925,"y":1.9},{"s":"HPs W/O","x":0.93,"y":1.5},{"s":"HPs W/O","x":0.935,"y":2.0},{"s":"HPs W/O","x":0.94,"y":1.7},{"s":"HPs W/O","x":0.945,"y":2.1},{"s":"HPs W/O","x":0.95,"y":1.9},{"s":"HPs W/O","x":0.955,"y":2.3},{"s":"HPs W/O","x":0.96,"y":2.1},{"s":"HPs W/O","x":0.965,"y":2.4}
]},
"encoding": {
  "x": {"field": "x", "type": "quantitative", "scale": {"domain": [0.4, 1.5], "nice": false, "zero": false},
        "axis": {"values": [0.4,0.5,0.6,0.7,0.8,0.9,1.0,1.1,1.2,1.3,1.4,1.5], "format": "~g", "labelPadding": 14, "gridDash": [7, 223, 7, 1000], "title": "Aₚ (10⁴ nm²/particle)", "titlePadding": 12}},
  "y": {"field": "y", "type": "quantitative", "scale": {"domain": [-10, 60], "nice": false, "zero": false},
        "axis": {"values": [-10,0,10,20,30,40,50,60], "format": "d", "labelPadding": 8.5, "gridDash": [7, 522, 7, 1000], "title": "Π (mN/m)", "titlePadding": 20}},
  "color": {"field": "s", "type": "nominal",
    "scale": {"domain": ["PPs W/A","PPs W/O","HPs W/A","HPs W/O"], "range": ["#ff0000","#00ff00","#0000ff","#ff00ff"]},
    "legend": {"title": null, "orient": "none", "legendX": 389, "legendY": -98, "direction": "vertical", "padding": 0, "rowPadding": 1,
      "labelFontSize": 19, "labelFont": "DejaVu Sans", "labelColor": "#000", "labelAlign": "right", "labelOffset": -56, "labelLimit": 400,
      "labelExpr": "(indexof(datum.label,'PPs')>=0 ? '3.9·10⁹' : '4.8·10⁹') + ' 23nm−' + datum.label",
      "symbolSize": 160, "symbolStrokeWidth": 1, "symbolOpacity": 0.55, "symbolFillColor": "transparent",
      "encoding": {"symbols": {
        "shape": {"value": {"expr": "indexof(datum.value,'PPs')>=0 ? 'M-4.9,0h0.35M-4.2,0h0.35M-3.5,0h0.35M-2.8,0h0.35M-2.1,0h0.35M-1.4,0h0.35M-0.7,0h0.35M0,0h0.35M0.7,0h0.35M1.4,0h0.35M2.1,0h0.35M2.8,0h0.35M3.5,0h0.35M4.2,0h0.35M-1,-1H1V1H-1Z' : 'M-4.9,0h0.35M-4.2,0h0.35M-3.5,0h0.35M-2.8,0h0.35M-2.1,0h0.35M-1.4,0h0.35M-0.7,0h0.35M0,0h0.35M0.7,0h0.35M1.4,0h0.35M2.1,0h0.35M2.8,0h0.35M3.5,0h0.35M4.2,0h0.35M1,0A1,1,0,1,1,-1,0A1,1,0,1,1,1,0Z'"}},
        "fillOpacity": {"value": 0},
        "strokeWidth": {"value": 1}
      }}
    }
  }
},
"layer": [
  {
    "transform": [{"filter": "indexof(datum.s,'PPs') >= 0"}],
    "mark": {"type": "point", "shape": "square", "filled": false, "size": 140, "strokeWidth": 1,
             "fill": {"expr": "scale('color', datum.s)"}, "fillOpacity": {"expr": "datum.r == 2 ? 0 : 0.3"}}
  },
  {
    "transform": [{"filter": "indexof(datum.s,'HPs') >= 0"}],
    "mark": {"type": "point", "shape": "circle", "filled": false, "size": 150, "strokeWidth": 1,
             "fill": {"expr": "scale('color', datum.s)"}, "fillOpacity": {"expr": "datum.s == 'HPs W/A' ? 0.03 : 0.3"}}
  },
  {
    "transform": [{"filter": "isValid(datum.r)"}],
    "mark": {"type": "line", "strokeDash": [1, 3], "strokeWidth": 1, "opacity": 0.8},
    "encoding": {"detail": {"field": "r", "type": "nominal"}}
  },
  {
    "transform": [{"filter": "isValid(datum.err)"}],
    "mark": {"type": "errorbar", "ticks": true, "opacity": 0.6},
    "encoding": {"yError": {"field": "err"}}
  }
]
}
